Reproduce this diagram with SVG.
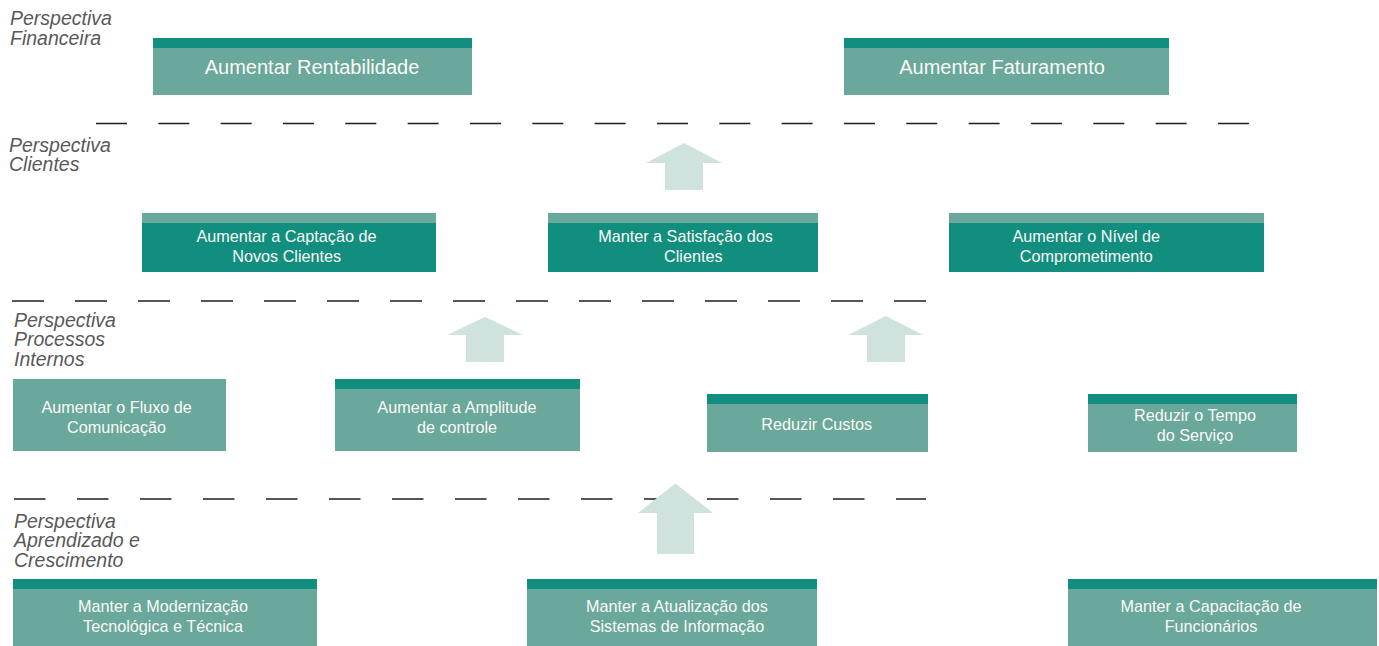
<svg xmlns="http://www.w3.org/2000/svg" width="1379" height="646" viewBox="0 0 1379 646">
<style>
.light{fill:#6AA89B}
.dark{fill:#128E7E}
.t{font-family:"Liberation Sans",Arial,Helvetica,sans-serif;fill:#FAFAF7;text-anchor:middle;font-size:16.2px}
.big{font-size:20px}
.lbl{font-family:"Liberation Sans",Arial,Helvetica,sans-serif;font-style:italic;font-size:19.5px;fill:#595959}
.sep{stroke:#1E1E1E;stroke-width:1.6;fill:none}
.arr{fill:#D0E2DE}
</style>
<rect width="1379" height="646" fill="#FFFFFF"/>
<g id="labels">
<text class="lbl" x="10" y="25">Perspectiva</text>
<text class="lbl" x="10" y="44.5">Financeira</text>
<text class="lbl" x="9" y="151.5">Perspectiva</text>
<text class="lbl" x="9" y="171">Clientes</text>
<text class="lbl" x="14" y="326.7">Perspectiva</text>
<text class="lbl" x="14" y="346.2">Processos</text>
<text class="lbl" x="14" y="365.7">Internos</text>
<text class="lbl" x="14" y="527.5">Perspectiva</text>
<text class="lbl" x="14" y="547.2">Aprendizado e</text>
<text class="lbl" x="14" y="567">Crescimento</text>
</g>
<g id="separators">
<path class="sep" d="M96 123.5H1249" stroke-dasharray="31 31.33"/>
<path class="sep" d="M12 301H926" stroke-dasharray="32 31"/>
<path class="sep" d="M14 499H926" stroke-dasharray="31.5 31.5"/>
</g>
<g id="connectors">
<polygon class="arr" points="684,143 722,163 703,163 703,190 665,190 665,163 646,163"/>
<polygon class="arr" points="485,317 523,335 504,335 504,362 466,362 466,335 447,335"/>
<polygon class="arr" points="886,316 923,335 905,335 905,362 867,362 867,335 848,335"/>
<polygon class="arr" points="675.5,483.5 713,513 694,513 694,554 657,554 657,513 638,513"/>
</g>
<g id="n-rentabilidade">
<rect class="light" x="153" y="38" width="319" height="57"/>
<rect class="dark" x="153" y="38" width="319" height="10"/>
<text class="t big" x="312" y="74">Aumentar Rentabilidade</text>
</g>
<g id="n-faturamento">
<rect class="light" x="844" y="38" width="325" height="57"/>
<rect class="dark" x="844" y="38" width="325" height="10"/>
<text class="t big" x="1002" y="74">Aumentar Faturamento</text>
</g>
<g id="n-captacao">
<rect class="dark" x="142" y="213" width="294" height="59"/>
<rect class="light" x="142" y="213" width="294" height="10"/>
<text class="t" x="286.5" y="241.7">Aumentar a Captação de</text>
<text class="t" x="286.7" y="261.7">Novos Clientes</text>
</g>
<g id="n-satisfacao">
<rect class="dark" x="548" y="213" width="270" height="59"/>
<rect class="light" x="548" y="213" width="270" height="10"/>
<text class="t" x="685.5" y="241.7">Manter a Satisfação dos</text>
<text class="t" x="693.3" y="261.7">Clientes</text>
</g>
<g id="n-nivel">
<rect class="dark" x="949" y="213" width="315" height="59"/>
<rect class="light" x="949" y="213" width="315" height="10"/>
<text class="t" x="1086.3" y="241.7">Aumentar o Nível de</text>
<text class="t" x="1086.3" y="261.7">Comprometimento</text>
</g>
<g id="n-fluxo">
<rect class="light" x="13" y="379" width="213" height="72"/>
<text class="t" x="116.7" y="413.3">Aumentar o Fluxo de</text>
<text class="t" x="116.5" y="433.3">Comunicação</text>
</g>
<g id="n-amplitude">
<rect class="light" x="335" y="379" width="245" height="72"/>
<rect class="dark" x="335" y="379" width="245" height="10"/>
<text class="t" x="457" y="413.3">Aumentar a Amplitude</text>
<text class="t" x="457" y="433.3">de controle</text>
</g>
<g id="n-custos">
<rect class="light" x="707" y="394" width="221" height="58"/>
<rect class="dark" x="707" y="394" width="221" height="10"/>
<text class="t" x="816.7" y="430">Reduzir Custos</text>
</g>
<g id="n-tempo">
<rect class="light" x="1088" y="394" width="209" height="58"/>
<rect class="dark" x="1088" y="394" width="209" height="10"/>
<text class="t" x="1195" y="421.3">Reduzir o Tempo</text>
<text class="t" x="1195" y="440.7">do Serviço</text>
</g>
<g id="n-modernizacao">
<rect class="light" x="13" y="579" width="304" height="67"/>
<rect class="dark" x="13" y="579" width="304" height="10"/>
<text class="t" x="163" y="611.7">Manter a Modernização</text>
<text class="t" x="163" y="631.7">Tecnológica e Técnica</text>
</g>
<g id="n-atualizacao">
<rect class="light" x="527" y="579" width="290" height="67"/>
<rect class="dark" x="527" y="579" width="290" height="10"/>
<text class="t" x="677" y="611.7">Manter a Atualização dos</text>
<text class="t" x="677" y="631.7">Sistemas de Informação</text>
</g>
<g id="n-capacitacao">
<rect class="light" x="1068" y="579" width="309" height="67"/>
<rect class="dark" x="1068" y="579" width="309" height="10"/>
<text class="t" x="1211" y="611.7">Manter a Capacitação de</text>
<text class="t" x="1211" y="631.7">Funcionários</text>
</g>
</svg>
